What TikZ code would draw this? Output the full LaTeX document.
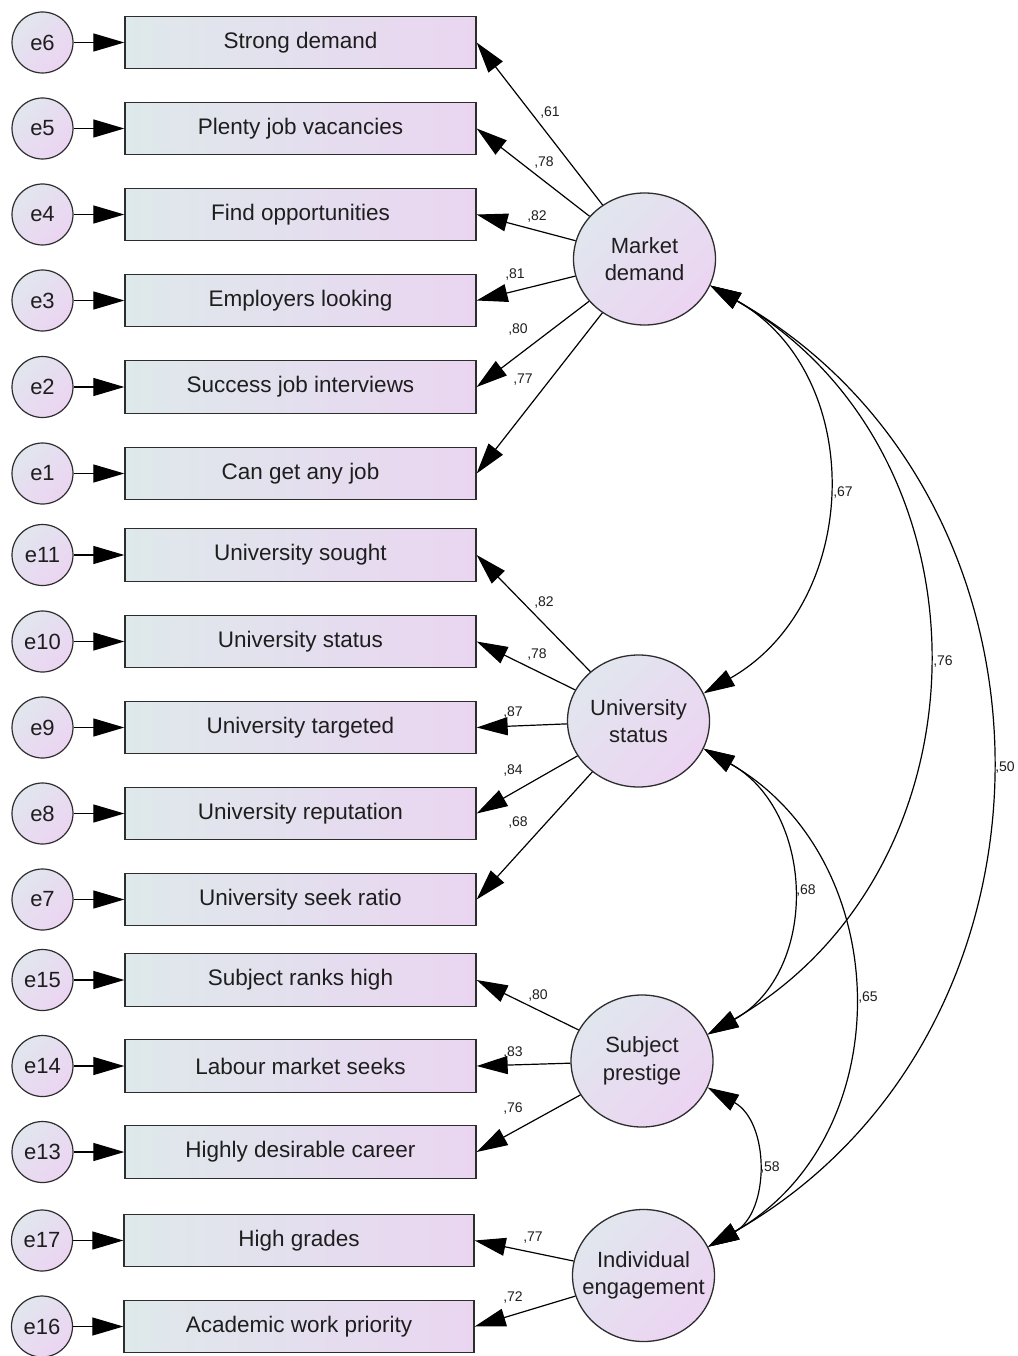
\documentclass[tikz,border=0pt]{standalone}
\usepackage{fontspec}
\setmainfont{Liberation Sans}
\usetikzlibrary{arrows.meta,shapes.geometric}
\definecolor{boxL}{RGB}{222,233,235}
\definecolor{boxR}{RGB}{234,213,241}
\definecolor{ellA}{RGB}{225,230,238}
\definecolor{ellB}{RGB}{236,212,242}
\definecolor{edgec}{RGB}{45,45,45}
\definecolor{txt}{RGB}{30,30,30}
\tikzset{
  Big/.tip={Triangle[length=31pt,width=18pt]},
  obs/.style={draw=edgec, line width=1.3pt, rectangle, minimum width=351pt,
    minimum height=52.5pt, inner sep=0pt, left color=boxL, right color=boxR,
    font=\fontsize{22.5}{27}\selectfont, text=txt},
  err/.style={draw=edgec, line width=1.2pt, circle, minimum size=61pt, inner sep=0pt,
    left color=ellA, right color=ellB, shading angle=45,
    font=\fontsize{22}{27}\selectfont, text=txt},
  lat/.style={draw=edgec, line width=1.3pt, ellipse, minimum width=142pt,
    minimum height=132pt, inner sep=0pt, left color=ellA, right color=ellB, shading angle=45},
  lattext/.style={align=center, font=\fontsize{22}{27.5}\selectfont, text=txt, inner sep=0pt},
  one/.style={-Big, line width=1.2pt, draw=black},
  two/.style={Big-Big, line width=1.2pt, draw=black},
  coef/.style={font=\fontsize{14}{16}\selectfont, text=txt, inner sep=0pt},
}
\begin{document}
\begin{tikzpicture}[x=1pt,y=-1pt]
\useasboundingbox (0,0) rectangle (1017,1356);
\fill[white] (0,0) rectangle (1017,1356);

% observed boxes
\node[obs] (b6)  at (300.5,42.5)   {Strong demand};
\node[obs] (b5)  at (300.5,128.5)  {Plenty job vacancies};
\node[obs] (b4)  at (300.5,214.5)  {Find opportunities};
\node[obs] (b3)  at (300.5,300.5)  {Employers looking};
\node[obs] (b2)  at (300.5,387)    {Success job interviews};
\node[obs] (b1)  at (300.5,473.5)  {Can get any job};
\node[obs] (b11) at (300.5,555)    {University sought};
\node[obs] (b10) at (300.5,641.5)  {University status};
\node[obs] (b9)  at (300.5,727.5)  {University targeted};
\node[obs] (b8)  at (300.5,813.5)  {University reputation};
\node[obs] (b7)  at (300.5,899.5)  {University seek ratio};
\node[obs] (b15) at (300.5,980)    {Subject ranks high};
\node[obs] (b14) at (300.5,1066)   {Labour market seeks};
\node[obs] (b13) at (300.5,1152)   {Highly desirable career};
\node[obs, minimum width=350pt] (b17) at (299,1240.5) {High grades};
\node[obs, minimum width=350pt] (b16) at (299,1326.5) {Academic work priority};

% error circles
\node[err] (e6)  at (42.5,42.5)   {e6};
\node[err] (e5)  at (42.5,128.5)  {e5};
\node[err] (e4)  at (42.5,214.5)  {e4};
\node[err] (e3)  at (42.5,300.5)  {e3};
\node[err] (e2)  at (42.5,387)    {e2};
\node[err] (e1)  at (42.5,473.5)  {e1};
\node[err] (e11) at (42.5,555)    {e11};
\node[err] (e10) at (42.5,641.5)  {e10};
\node[err] (e9)  at (42.5,727.5)  {e9};
\node[err] (e8)  at (42.5,813.5)  {e8};
\node[err] (e7)  at (42.5,899.5)  {e7};
\node[err] (e15) at (42.5,980)    {e15};
\node[err] (e14) at (42.5,1066)   {e14};
\node[err] (e13) at (42.5,1152)   {e13};
\node[err] (e17) at (42,1240.5)   {e17};
\node[err] (e16) at (42,1326.5)   {e16};

\foreach \i in {1,...,17}{
  \ifnum\i=12\else
  \draw[one] (e\i) -- (b\i.west);
  \fi
}

% latent variables
\node[lat, label={[lattext]center:Market\\demand}] (md) at (644.5,259) {};
\node[lat, label={[lattext]center:University\\status}] (us) at (638.5,721) {};
\node[lat, label={[lattext]center:Subject\\prestige}] (sp) at (642,1061) {};
\node[lat, label={[lattext]center:Individual\\engagement}] (ie) at (643.5,1275.5) {};

% loadings
\foreach \b in {6,5,4,3,2,1}{\draw[one] (md) -- (b\b.east);}
\foreach \b in {11,10,9,8,7}{\draw[one] (us) -- (b\b.east);}
\foreach \b in {15,14,13}{\draw[one] (sp) -- (b\b.east);}
\foreach \b in {17,16}{\draw[one] (ie) -- (b\b.east);}

% covariances
\draw[two] (md.-22) .. controls +(158,90) and +(158,-90) .. (us.23);
\draw[two] (md.-22) .. controls +(288.7,166.7) and +(288.7,-166.7) .. (sp.22);
\draw[two] (md.-22) .. controls +(372.4,212.2) and +(372.4,-212.2) .. (ie.24);
\draw[two] (us.-23) .. controls +(112,62.9) and +(112,-62.9) .. (sp.22);
\draw[two] (us.-23) .. controls +(193.2,110.1) and +(193.2,-110.1) .. (ie.24);
\draw[two] (sp.-22) .. controls +(62.1,34.8) and +(62.1,-34.8) .. (ie.24);

% loading coefficients
\node[coef] (c1)  at (550,113)  {,61};
\node[coef] (c2)  at (544,163)  {,78};
\node[coef] (c3)  at (537,217)  {,82};
\node[coef] (c4)  at (515,275)  {,81};
\node[coef] (c5)  at (518,330)  {,80};
\node[coef] (c6)  at (523,380)  {,77};
\node[coef] (c7)  at (544,603)  {,82};
\node[coef] (c8)  at (537,655)  {,78};
\node[coef] (c9)  at (513,713)  {,87};
\node[coef] (c10) at (513,770)  {,84};
\node[coef] (c11) at (518,822)  {,68};
\node[coef] (c12) at (538,995)  {,80};
\node[coef] (c13) at (513,1052) {,83};
\node[coef] (c14) at (513,1108) {,76};
\node[coef] (c15) at (533,1238) {,77};
\node[coef] (c16) at (513,1297) {,72};

% covariance coefficients
\node[coef] (r1) at (843,493)  {,67};
\node[coef] (r2) at (943,662)  {,76};
\node[coef] (r3) at (1005,767) {,50};
\node[coef] (r4) at (806,890)  {,68};
\node[coef] (r5) at (868,997)  {,65};
\node[coef] (r6) at (770,1167) {,58};
\end{tikzpicture}
\end{document}
